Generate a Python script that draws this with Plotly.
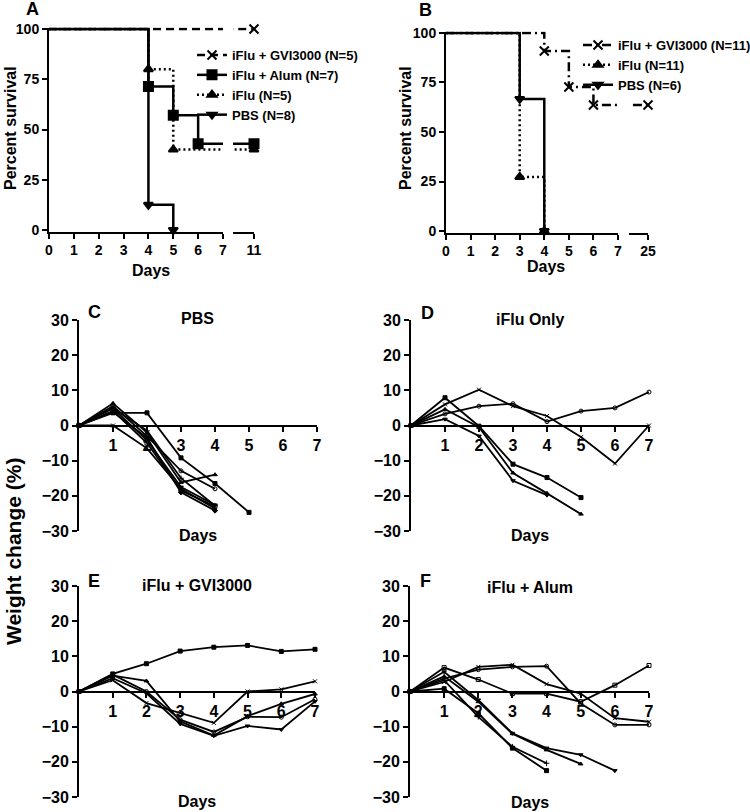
import plotly.graph_objects as go

W, H = 750, 812
FONT = "Liberation Sans, Arial, sans-serif"

# ---------------- data ----------------
# Panel A survival (day, percent survival)
a_labels = ["iFlu + GVI3000 (N=5)", "iFlu + Alum (N=7)", "iFlu (N=5)", "PBS (N=8)"]
a_gvi_days = [0, 11]
a_gvi_surv = [100, 100]
a_alum_days = [0, 4, 5, 6, 11]
a_alum_surv = [100, 71.4, 57.1, 42.9, 42.9]
a_iflu_days = [0, 4, 5, 11]
a_iflu_surv = [100, 80, 40, 40]
a_pbs_days = [0, 4, 5]
a_pbs_surv = [100, 12.5, 0]
a_xticks = [0, 1, 2, 3, 4, 5, 6, 7]
a_break_tick = [11]

# Panel B survival
b_labels = ["iFlu + GVI3000 (N=11)", "iFlu (N=11)", "PBS (N=6)"]
b_gvi_days = [0, 4, 5, 6, 25]
b_gvi_surv = [100, 90.9, 72.7, 63.6, 63.6]
b_iflu_days = [0, 3, 4]
b_iflu_surv = [100, 27.3, 0]
b_pbs_days = [0, 3, 4]
b_pbs_surv = [100, 66.7, 0]
b_xticks = [0, 1, 2, 3, 4, 5, 6, 7]
b_break_tick = [25]

surv_yticks = [0, 25, 50, 75, 100]

# Weight change panels (% change per mouse, day 0..)
days = [0, 1, 2, 3, 4, 5, 6, 7]
pbs_weights = [
    [0, 3.6, 3.6, -9.2, -16.5, -24.7],
    [0, 0.0, -6.5, -18.0, -23.6],
    [0, 6.3, -2.0, -16.2, -14.0],
    [0, 5.5, -3.0, -12.9, -18.0],
    [0, 4.9, -4.2, -17.5, -22.6],
    [0, 4.2, -5.0, -18.5, -23.0],
    [0, 3.8, -3.5, -19.0, -24.2],
    [0, 5.0, -1.5, -15.0, -22.8],
]
iflu_weights = [
    [0, 7.9, -0.2, -11.0, -14.8, -20.5],
    [0, 6.0, 10.2, 5.5, 2.7, -3.3, -10.8, 0.0],
    [0, 4.6, -0.5, -13.5, -19.3, -25.2],
    [0, 3.3, 5.5, 6.2, 1.1, 4.1, 5.0, 9.5],
    [0, 1.8, -3.0, -15.7, -19.8],
]
gvi_weights = [
    [0, 5.0, 7.9, 11.5, 12.6, 13.1, 11.4, 12.0],
    [0, 3.2, -3.3, -6.2, -8.9, 0.0, 0.6, 2.9],
    [0, 4.5, 3.0, -8.5, -12.5, -7.0, -3.5, -0.7],
    [0, 4.8, 0.0, -8.0, -11.5, -7.2, -7.3, -2.2],
    [0, 3.8, -0.5, -9.2, -12.6, -9.8, -10.8, -2.8],
]
alum_weights = [
    [0, 6.8, 3.4, -0.6, -0.6, -2.9, 1.8, 7.4],
    [0, 3.7, 6.2, 7.0, 7.2, -3.4, -9.5, -9.5],
    [0, 2.7, 7.0, 7.6, 2.1, -0.6, -7.6, -8.6],
    [0, 5.6, -2.4, -11.9, -16.1, -18.0, -22.5],
    [0, 4.3, -2.9, -12.0, -16.6, -20.6],
    [0, 3.2, -7.2, -15.7, -20.4],
    [0, 0.8, -6.2, -16.1, -22.5],
]
weight_xticks = [1, 2, 3, 4, 5, 6, 7]
weight_yticks = [-30, -20, -10, 0, 10, 20, 30]

# ---------------- helpers ----------------
def px(x):
    return x / W

def py(y):
    return 1 - y / H

def bold(size):
    return dict(family=FONT, size=size, color="black", weight="bold")

axis_common = dict(showline=True, linecolor="black", linewidth=2, ticks="outside",
                   ticklen=5, tickwidth=2, tickcolor="black", showgrid=False,
                   zeroline=False, layer="below traces", automargin=False)

fig = go.Figure()

def survival(days_, surv_, name, dash, symbol, msize, xl, xr, yax, left_max, right_min, legend):
    line = dict(color="black", width=2.5, dash=dash, shape="hv")
    mk = dict(symbol=symbol, size=msize, color="black", line=dict(color="black", width=2))
    for xa in (xl, xr):
        fig.add_trace(go.Scatter(x=days_, y=surv_, mode="lines", line=line, xaxis=xa,
                                 yaxis=yax, showlegend=False, hoverinfo="skip"))
    ev = list(zip(days_, surv_))[1:]
    left = [p for p in ev if p[0] <= left_max]
    right = [p for p in ev if p[0] >= right_min]
    for pts, xa in ((left, xl), (right, xr)):
        if pts:
            fig.add_trace(go.Scatter(x=[p[0] for p in pts], y=[p[1] for p in pts], mode="markers",
                                     marker=mk, xaxis=xa, yaxis=yax, cliponaxis=False,
                                     showlegend=False))
    fig.add_trace(go.Scatter(x=[None], y=[None], mode="lines+markers", name=name,
                             line=dict(color="black", width=2.5, dash=dash), marker=mk,
                             xaxis=xl, yaxis=yax, legend=legend))

# Panel A
survival(a_gvi_days, a_gvi_surv, a_labels[0], "8px,5px", "x-thin-open", 9, "x", "x2", "y", 7, 10.2, "legend")
survival(a_alum_days, a_alum_surv, a_labels[1], "solid", "square", 9, "x", "x2", "y", 7, 10.2, "legend")
survival(a_iflu_days, a_iflu_surv, a_labels[2], "2px,3px", "triangle-up", 8, "x", "x2", "y", 7, 10.2, "legend")
survival(a_pbs_days, a_pbs_surv, a_labels[3], "solid", "triangle-down", 8, "x", "x2", "y", 7, 10.2, "legend")

# Panel B
survival(b_gvi_days, b_gvi_surv, b_labels[0], "9px,4px,2px,4px", "x-thin-open", 9, "x3", "x4", "y2", 7, 24.2, "legend2")
survival(b_iflu_days, b_iflu_surv, b_labels[1], "2px,3px", "triangle-up", 8, "x3", "x4", "y2", 7, 24.2, "legend2")
survival(b_pbs_days, b_pbs_surv, b_labels[2], "solid", "triangle-down", 8, "x3", "x4", "y2", 7, 24.2, "legend2")

# Weight panels
symbols = ["square", "x-thin-open", "triangle-up", "circle-open", "triangle-down",
           "square-open", "diamond", "cross-thin-open"]
alum_symbols = ["square-open", "circle-open", "x-thin-open", "triangle-down", "triangle-up",
                "cross-thin-open", "square"]

def weights(data, xa, ya, syms):
    for i, w in enumerate(data):
        fig.add_trace(go.Scatter(x=days[:len(w)], y=w, mode="lines+markers",
                                 line=dict(color="black", width=1.8),
                                 marker=dict(symbol=syms[i % len(syms)], size=4, color="black",
                                             line=dict(color="black", width=1)),
                                 xaxis=xa, yaxis=ya, cliponaxis=False, showlegend=False))

weights(pbs_weights, "x5", "y3", symbols)
weights(iflu_weights, "x6", "y4", symbols)
weights(gvi_weights, "x7", "y5", symbols)
weights(alum_weights, "x8", "y6", alum_symbols)

# ---------------- layout ----------------
layout = dict(width=W, height=H, margin=dict(l=0, r=0, t=0, b=0, autoexpand=False),
              paper_bgcolor="white", plot_bgcolor="white", showlegend=True)

sf = bold(14)
layout["yaxis"] = dict(domain=[py(231.5), py(27.5)], range=[-0.75, 100.75], tickvals=surv_yticks,
                       anchor="x", tickfont=sf, **axis_common)
layout["xaxis"] = dict(domain=[px(49), px(223)], range=[0, 7], tickvals=a_xticks,
                       anchor="y", tickfont=sf, **axis_common)
layout["xaxis2"] = dict(domain=[px(233), px(254)], range=[10.2, 11], tickvals=a_break_tick,
                        anchor="y", tickfont=sf, **axis_common)
layout["yaxis2"] = dict(domain=[py(232.5), py(31.5)], range=[-0.75, 100.75], tickvals=surv_yticks,
                        anchor="x3", tickfont=sf, **axis_common)
layout["xaxis3"] = dict(domain=[px(446), px(618)], range=[0, 7], tickvals=b_xticks,
                        anchor="y2", tickfont=sf, **axis_common)
layout["xaxis4"] = dict(domain=[px(629), px(648)], range=[24.2, 25], tickvals=b_break_tick,
                        anchor="y2", tickfont=sf, **axis_common)

wf = bold(16)
panels = [("x5", "y3", 79, 317, 320, 531), ("x6", "y4", 411, 649, 320, 531),
          ("x7", "y5", 79, 315, 586, 797), ("x8", "y6", 410, 649, 586, 797)]
for xa, ya, x0, x1, ytop, ybot in panels:
    ydom = [py(ybot), py(ytop)]
    layout["xaxis" + xa[1:]] = dict(domain=[px(x0), px(x1)], range=[0, 7], tickvals=weight_xticks,
                                    anchor="free", position=(ydom[0] + ydom[1]) / 2,
                                    tickfont=wf, **axis_common)
    layout["yaxis" + ya[1:]] = dict(domain=ydom, range=[-30, 30], tickvals=weight_yticks,
                                    anchor=xa, tickfont=wf, **axis_common)

legend_common = dict(font=bold(13), bgcolor="rgba(0,0,0,0)", xanchor="left", yanchor="top",
                     itemwidth=30, tracegroupgap=0)
layout["legend"] = dict(x=px(192), y=py(40), **legend_common)
layout["legend2"] = dict(x=px(578), y=py(30), **legend_common)

anns = []

def ann(text, x, y, size, angle=0):
    anns.append(dict(text=text, x=px(x), y=py(y), xref="paper", yref="paper",
                     showarrow=False, font=bold(size), textangle=angle,
                     xanchor="center", yanchor="middle"))

ann("A", 32, 9, 18)
ann("B", 426, 10, 18)
ann("C", 94, 312, 18)
ann("D", 427, 313, 18)
ann("E", 94, 581, 18)
ann("F", 426, 581, 18)
ann("PBS", 197, 319, 16)
ann("iFlu Only", 530, 320, 16)
ann("iFlu + GVI3000", 197, 585, 16)
ann("iFlu + Alum", 530, 587, 16)
ann("Days", 151, 270, 16)
ann("Days", 546, 266, 16)
ann("Days", 198, 535, 16)
ann("Days", 530, 535, 16)
ann("Days", 197, 801, 16)
ann("Days", 530, 802, 16)
ann("Percent survival", 10, 128, 16, -90)
ann("Percent survival", 405, 128, 16, -90)
ann("Weight change (%)", 13, 552, 21, -90)
layout["annotations"] = anns

fig.update_layout(**layout)
fig.write_html("out.html", config={"displayModeBar": False},
               post_script="document.body.style.margin='0px';document.body.style.overflow='hidden';")
